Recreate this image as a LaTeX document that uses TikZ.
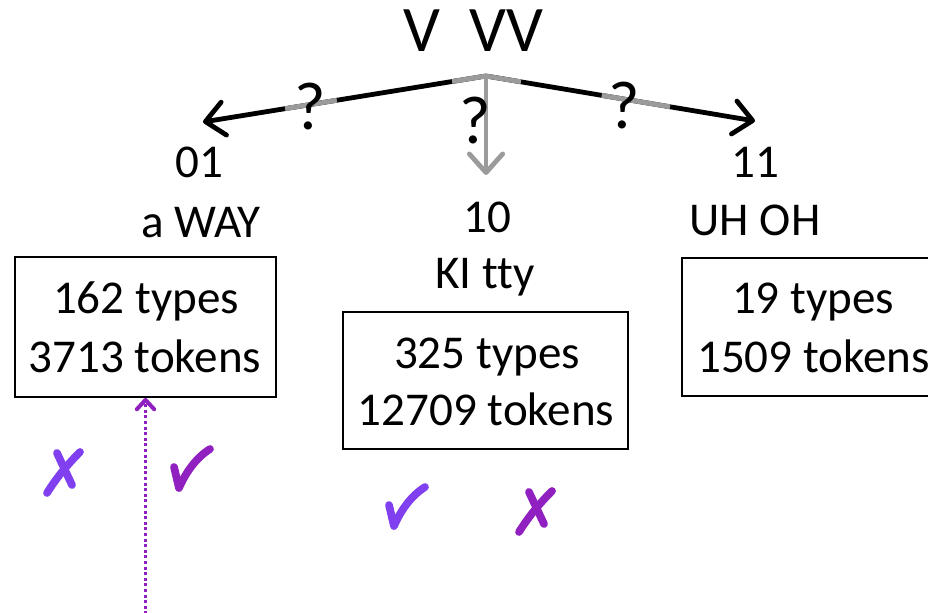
\documentclass[tikz,border=0pt]{standalone}
\usepackage{fontspec}
\setmainfont{Carlito}[Ligatures={NoCommon}]
\usetikzlibrary{arrows.meta,calc,fit}
\definecolor{violetmark}{RGB}{128,64,240}
\definecolor{purplemark}{RGB}{144,32,192}
\definecolor{segray}{RGB}{155,155,155}
\begin{document}
\begin{tikzpicture}[x=0.75pt,y=-0.75pt,
  lbl/.style={font=\fontsize{35.3}{42}\selectfont, inner sep=0, anchor=base},
  titletext/.style={font=\fontsize{48.75}{58}\selectfont, inner sep=0, anchor=base},
  qm/.style={font=\fontsize{51}{60}\selectfont, inner sep=0},
  countbox/.style={draw=black, line width=1.4pt, inner sep=0},
  bigarrow/.style={line width=3.6pt, -{Straight Barb[length=14pt,width=25pt,round]}},
  graysegment/.style={segray, line width=3.6pt, line join=miter},
  dotarrow/.style={purplemark, line width=2.2pt, dash pattern=on 2.2pt off 2pt,
    -{Straight Barb[length=7pt,width=13pt,line width=3pt,round]}},
  markstroke/.style={line width=5.8pt, line cap=round, line join=round},
  checkmark/.pic={\draw[markstroke] (-17,-3) -- (-12,18) .. controls (-5,2) and (5,-12) .. (19,-21);},
  crossmark/.pic={\draw[markstroke] (-16,21) .. controls (-6,5) and (5,-8) .. (17,-20);
                  \draw[markstroke] (-6,-19) -- (9,13);}
]
\useasboundingbox (0,0) rectangle (928,613);
\clip (0,0) rectangle (928,613);

% title
\node[titletext] (title) at (473.5,52) {V\ \ VV};

% arrow coordinates
\coordinate (apex) at (486,76);
\coordinate (tipL) at (203,122);
\coordinate (tipR) at (755,121);
\coordinate (tipM) at (486,175);

% arrows
\draw[bigarrow, black] (apex) -- (tipL);
\draw[bigarrow, black] (apex) -- (tipR);
\draw[graysegment] ($(apex)!0.12!(tipL)$) -- (apex) -- ($(apex)!0.13!(tipR)$);
\draw[graysegment] ($(apex)!0.527!(tipL)$) -- ($(apex)!0.71!(tipL)$);
\draw[graysegment] ($(apex)!0.43!(tipR)$) -- ($(apex)!0.684!(tipR)$);
\draw[bigarrow, segray] (apex) -- (tipM);

% question marks
\node[qm] (qL) at (310,107) {?};
\node[qm] (qM) at (475,121) {?};
\node[qm] (qR) at (624,106) {?};

% labels
\node[lbl] (l01) at (199.5,178) {01};
\node[lbl] (lway) at (201,237) {a WAY};
\node[lbl] (l10) at (487,232) {10};
\node[lbl] (lki) at (485,288) {KI tty};
\node[lbl] (l11) at (755,178) {11};
\node[lbl] (luh) at (755,235) {UH OH};

% boxes
\coordinate (b1nw) at (15,257);  \coordinate (b1se) at (276,397);
\coordinate (b2nw) at (343,312); \coordinate (b2se) at (628,449);
\coordinate (b3nw) at (682,258); \coordinate (b3se) at (945,396);
\node[countbox, fit=(b1nw) (b1se)] (b1) {};
\node[countbox, fit=(b2nw) (b2se)] (b2) {};
\node[countbox, fit=(b3nw) (b3se)] (b3) {};

\node[lbl] (b1a) at (146,313) {162 types};
\node[lbl] (b1b) at (145,372) {3713 tokens};
\node[lbl] (b2a) at (487,368) {325 types};
\node[lbl] (b2b) at (486,425) {12709 tokens};
\node[lbl] (b3a) at (813,313) {19 types};
\node[lbl] (b3b) at (813.5,372) {1509 tokens};

% dotted arrow
\coordinate (dotbot) at (146,620);
\draw[dotarrow] (b1.south |- dotbot) -- (b1.south);

% marks
\pic[violetmark] at (63,472) {crossmark};
\pic[purplemark] at (191,470) {checkmark};
\pic[violetmark] at (406,508) {checkmark};
\pic[purplemark] at (535,511) {crossmark};
\end{tikzpicture}
\end{document}
